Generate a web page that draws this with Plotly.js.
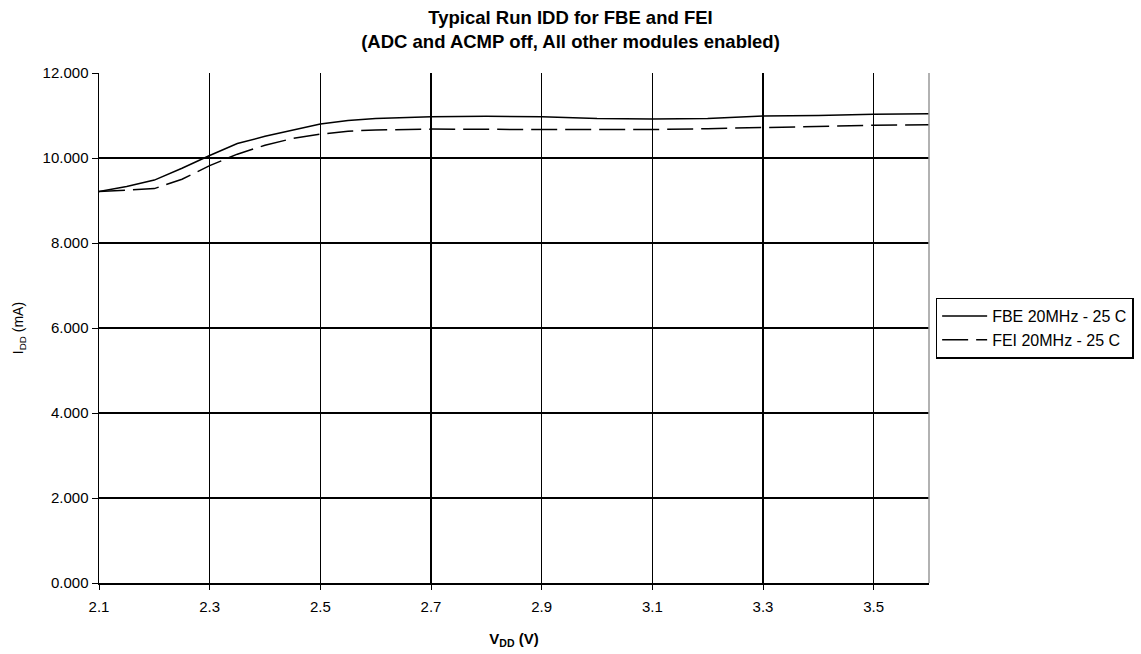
<!DOCTYPE html>
<html>
<head>
<meta charset="utf-8">
<script src="https://cdn.plot.ly/plotly-3.0.1.min.js"></script>
<style>html,body{margin:0;padding:0;background:#fff;}#chart{width:1141px;height:654px;}</style>
</head>
<body>
<div id="chart"></div>
<script>
const vdd = [2.10, 2.15, 2.20, 2.25, 2.30, 2.35, 2.40, 2.45, 2.50, 2.55, 2.60, 2.70, 2.80, 2.90, 3.00, 3.10, 3.20, 3.30, 3.40, 3.50, 3.60];
const fbe = [9.21, 9.33, 9.48, 9.76, 10.06, 10.34, 10.51, 10.66, 10.80, 10.88, 10.93, 10.97, 10.98, 10.97, 10.93, 10.92, 10.93, 10.99, 11.00, 11.03, 11.04];
const fei = [9.21, 9.25, 9.28, 9.50, 9.82, 10.09, 10.30, 10.46, 10.56, 10.63, 10.66, 10.68, 10.67, 10.67, 10.67, 10.67, 10.69, 10.72, 10.74, 10.77, 10.78];
const seriesNames = ['FBE 20MHz - 25 C', 'FEI 20MHz - 25 C'];
const xTicks = [2.1, 2.3, 2.5, 2.7, 2.9, 3.1, 3.3, 3.5];
const yTicks = [0, 2, 4, 6, 8, 10, 12];

const font = 'Liberation Sans, Arial, sans-serif';
const traces = [
  {x: vdd, y: fbe, name: seriesNames[0], mode: 'lines', line: {color: '#000', width: 1.5}},
  {x: vdd, y: fei, name: seriesNames[1], mode: 'lines', line: {color: '#000', width: 1.5, dash: '26px,8px'}}
];
const layout = {
  width: 1141, height: 654,
  margin: {l: 99, r: 212, t: 73, b: 71, autoexpand: false},
  paper_bgcolor: '#fff', plot_bgcolor: '#fff',
  font: {family: font, size: 15, color: '#000'},
  title: {
    text: '<b>Typical Run IDD for FBE and FEI<br>(ADC and ACMP off, All other modules enabled)</b>',
    font: {family: font, size: 18.5, color: '#000'},
    xref: 'container', x: 0.5, xanchor: 'center', yref: 'container', y: 0.964, yanchor: 'bottom'
  },
  xaxis: {
    range: [2.1, 3.6], tickvals: xTicks, ticktext: xTicks.map(v => v.toFixed(1)),
    showgrid: true, gridcolor: '#000', gridwidth: 1.3,
    showline: true, linecolor: '#000', linewidth: 1.5,
    ticks: 'outside', ticklen: 5, tickcolor: '#000', zeroline: false,
    ticklabelstandoff: 4, automargin: false,
    tickfont: {family: font, size: 15, color: '#000'},
    title: {text: '<b>V<sub>DD</sub> (V)</b>', font: {family: font, size: 15, color: '#000'}, standoff: 20}
  },
  yaxis: {
    range: [0, 12], tickvals: yTicks, ticktext: yTicks.map(v => v.toFixed(3)),
    showgrid: true, gridcolor: '#000', gridwidth: 1.3,
    showline: true, linecolor: '#000', linewidth: 1.5,
    ticks: 'outside', ticklen: 6, tickcolor: '#000', zeroline: false,
    automargin: false,
    tickfont: {family: font, size: 15, color: '#000'},
    title: {text: 'I<sub>DD</sub> (mA)', font: {family: font, size: 14, color: '#000'}, standoff: 15}
  },
  legend: {
    x: 1.008, xanchor: 'left', y: 0.5, yanchor: 'middle',
    bordercolor: '#000', borderwidth: 1.5, bgcolor: '#fff',
    font: {family: font, size: 16, color: '#000'},
    itemwidth: 45,
    tracegroupgap: 0
  },
  shapes: [
    {type: 'line', xref: 'paper', yref: 'paper', x0: 1, x1: 1, y0: 0, y1: 1, line: {color: '#999', width: 1.5}}
  ],
  showlegend: true
};
Plotly.newPlot('chart', traces, layout, {displayModeBar: false, staticPlot: true});
</script>
</body>
</html>
